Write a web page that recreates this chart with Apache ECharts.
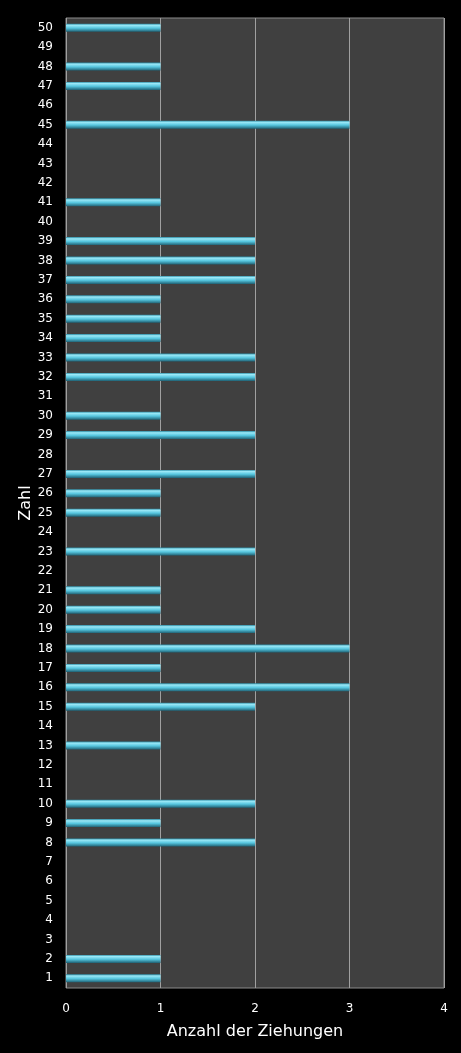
<!DOCTYPE html>
<html>
<head>
<meta charset="utf-8">
<script src="https://cdn.jsdelivr.net/npm/echarts@6/dist/echarts.min.js"></script>
<style>
  html, body { margin: 0; padding: 0; background: #000; }
  #main { width: 461px; height: 1053px; }
</style>
</head>
<body>
<div id="main"></div>
<script>
var numbers = [];
for (var n = 1; n <= 50; n++) numbers.push(String(n));

// Anzahl der Ziehungen je Zahl (1..50)
var draws = [1, 1, 0, 0, 0, 0, 0, 2, 1, 2,
             0, 0, 1, 0, 2, 3, 1, 3, 2, 1,
             1, 0, 2, 0, 1, 1, 2, 0, 2, 1,
             0, 2, 2, 1, 1, 1, 2, 2, 2, 0,
             1, 0, 0, 0, 3, 0, 1, 1, 0, 1];

var xTicks = [0, 1, 2, 3, 4];

var chart = echarts.init(document.getElementById('main'));

var barColor = new echarts.graphic.LinearGradient(0, 0, 0, 1, [
    {offset: 0, color: '#2f8ea6'},
    {offset: 0.2, color: '#9ae8f7'},
    {offset: 0.55, color: '#56c6df'},
    {offset: 1, color: '#1f6275'}
]);

chart.setOption({
    backgroundColor: '#000',
    animation: false,
    grid: {
        left: 66,
        right: 17,
        top: 18,
        bottom: 65,
        show: true,
        backgroundColor: '#404040',
        borderColor: '#8a8a8a',
        borderWidth: 1
    },
    xAxis: {
        type: 'value',
        min: xTicks[0],
        max: xTicks[xTicks.length - 1],
        interval: 1,
        name: 'Anzahl der Ziehungen',
        nameLocation: 'middle',
        nameGap: 36,
        nameMoveOverlap: false,
        nameTextStyle: {color: '#fff', fontSize: 16, fontFamily: 'DejaVu Sans'},
        axisLine: {show: false},
        axisTick: {show: false},
        axisLabel: {color: '#fff', fontSize: 12, fontFamily: 'DejaVu Sans', margin: 15},
        splitLine: {show: true, lineStyle: {color: '#a0a0a0', width: 1}}
    },
    yAxis: {
        type: 'category',
        data: numbers,
        name: 'Zahl',
        nameLocation: 'middle',
        nameGap: 32,
        nameMoveOverlap: false,
        nameRotate: 90,
        nameTextStyle: {color: '#fff', fontSize: 16, fontFamily: 'DejaVu Sans'},
        axisLine: {show: false},
        axisTick: {show: false},
        axisLabel: {color: '#fff', fontSize: 12, fontFamily: 'DejaVu Sans', margin: 13, interval: 0},
        splitLine: {show: false}
    },
    series: [{
        type: 'bar',
        data: draws,
        barWidth: 8,
        itemStyle: {color: barColor}
    }]
});
</script>
</body>
</html>
